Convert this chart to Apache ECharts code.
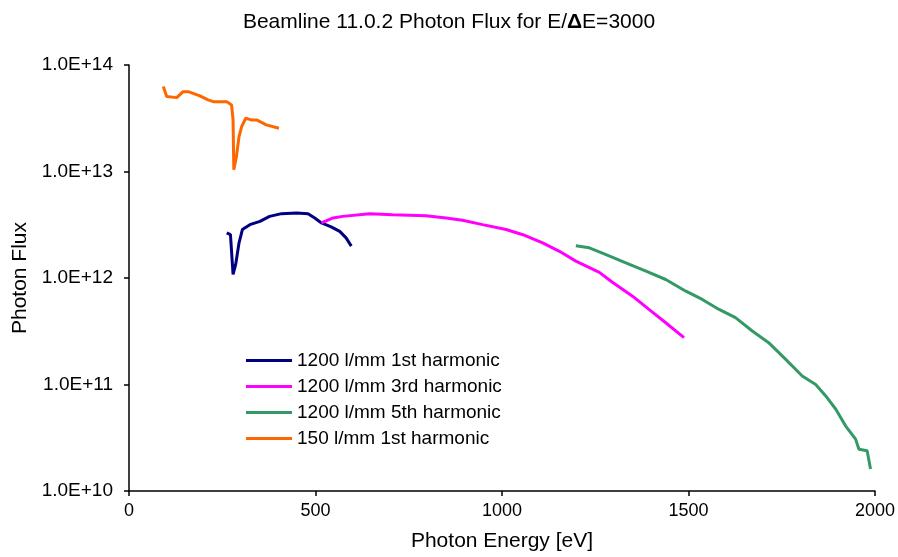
<!DOCTYPE html>
<html>
<head>
<meta charset="utf-8">
<script src="https://cdn.jsdelivr.net/npm/echarts@6/dist/echarts.min.js"></script>
<style>
  html, body { margin: 0; padding: 0; background: #fff; }
  #chart { width: 898px; height: 557px; }
</style>
</head>
<body>
<div id="chart"></div>
<script>
// values (eV, photons/s)
const seriesNames = ["1200 l/mm 1st harmonic", "1200 l/mm 3rd harmonic", "1200 l/mm 5th harmonic", "150 l/mm 1st harmonic"];
const seriesColors = ["#000080", "#ff00ff", "#339966", "#ff6600"];
const yTickLabels = ["1.0E+10", "1.0E+11", "1.0E+12", "1.0E+13", "1.0E+14"];

const energy1st = [262, 272, 279, 286, 295, 304, 324, 351, 377, 409, 449, 480, 498, 516, 542, 565, 582, 596];
const flux1st = [2.65e12, 2.55e12, 1.08e12, 1.34e12, 2.14e12, 2.85e12, 3.17e12, 3.40e12, 3.79e12, 4.02e12, 4.08e12, 4.02e12, 3.66e12, 3.29e12, 3.02e12, 2.74e12, 2.38e12, 1.99e12];

const energy3rd = [516, 547, 573, 645, 707, 796, 850, 894, 948, 1011, 1056, 1109, 1154, 1198, 1261, 1296, 1350, 1394, 1439, 1488];
const flux3rd = [3.29e12, 3.66e12, 3.79e12, 4.02e12, 3.93e12, 3.85e12, 3.66e12, 3.48e12, 3.17e12, 2.85e12, 2.55e12, 2.14e12, 1.78e12, 1.44e12, 1.13e12, 9.13e11, 6.75e11, 5.07e11, 3.80e11, 2.75e11];

const energy5th = [1198, 1234, 1279, 1332, 1386, 1439, 1493, 1537, 1582, 1626, 1671, 1715, 1760, 1805, 1841, 1868, 1895, 1921, 1948, 1957, 1979, 1988];
const flux5th = [2.01e12, 1.92e12, 1.66e12, 1.39e12, 1.16e12, 9.68e11, 7.52e11, 6.29e11, 5.07e11, 4.24e11, 3.18e11, 2.47e11, 1.73e11, 1.20e11, 1.00e11, 7.81e10, 5.86e10, 4.09e10, 3.07e10, 2.47e10, 2.39e10, 1.61e10];

const energy150 = [92, 101, 128, 145, 159, 190, 212, 226, 262, 275, 279, 281, 288, 295, 302, 313, 328, 342, 368, 402];
const flux150 = [6.27e13, 5.05e13, 4.94e13, 5.62e13, 5.62e13, 5.13e13, 4.70e13, 4.53e13, 4.53e13, 4.22e13, 3.05e13, 1.04e13, 1.38e13, 2.13e13, 2.64e13, 3.16e13, 3.05e13, 3.05e13, 2.74e13, 2.55e13];

const pairs = (xs, ys) => xs.map((x, i) => [x, ys[i]]);
const allData = [
  pairs(energy1st, flux1st),
  pairs(energy3rd, flux3rd),
  pairs(energy5th, flux5th),
  pairs(energy150, flux150)
];

const font = "Liberation Sans, Arial, sans-serif";
const chart = echarts.init(document.getElementById('chart'));
const option = {
  animation: false,
  backgroundColor: "#fff",
  title: {
    text: "{n|Beamline 11.0.2 Photon Flux for E/}{b|Δ}{n|E=3000}",
    left: "center",
    top: 7,
    textStyle: {
      fontWeight: "normal",
      rich: {
        n: { fontFamily: font, fontSize: 21, fontWeight: "normal", color: "#000" },
        b: { fontFamily: font, fontSize: 21, fontWeight: "bold", color: "#000" }
      }
    }
  },
  grid: { left: 129, right: 22, top: 65, bottom: 65.5 },
  legend: {
    orient: "vertical",
    left: 246,
    top: 351,
    padding: 0,
    icon: "rect",
    itemWidth: 46,
    itemHeight: 3,
    itemGap: 7,
    data: seriesNames,
    textStyle: { fontFamily: font, fontSize: 19, color: "#000", lineHeight: 18.5 }
  },
  xAxis: {
    type: "value",
    min: 0,
    max: 2000,
    interval: 500,
    name: "Photon Energy [eV]",
    nameLocation: "middle",
    nameGap: 40,
    nameTextStyle: { fontFamily: font, fontSize: 21, color: "#000" },
    axisLine: { lineStyle: { color: "#000", width: 1.5 } },
    axisTick: { show: true, length: 5, lineStyle: { color: "#000", width: 1.5 } },
    axisLabel: { fontFamily: font, fontSize: 18, color: "#000", margin: 11, formatter: v => String(v) },
    splitLine: { show: false }
  },
  yAxis: {
    type: "log",
    logBase: 10,
    min: 1e10,
    max: 1e14,
    name: "Photon Flux",
    nameLocation: "middle",
    nameGap: 98,
    nameTextStyle: { fontFamily: font, fontSize: 21, color: "#000" },
    axisLine: { show: true, lineStyle: { color: "#000", width: 1.5 } },
    axisTick: { show: true, length: 5, lineStyle: { color: "#000", width: 1.5 } },
    minorTick: { show: false },
    axisLabel: {
      fontFamily: font, fontSize: 19, color: "#000", margin: 16,
      formatter: v => yTickLabels[Math.round(Math.log10(v)) - 10]
    },
    splitLine: { show: false }
  },
  series: seriesNames.map((name, i) => ({
    name: name,
    type: "line",
    data: allData[i],
    showSymbol: false,
    symbol: "none",
    color: seriesColors[i],
    lineStyle: { color: seriesColors[i], width: 3 }
  }))
};
chart.setOption(option);
</script>
</body>
</html>
